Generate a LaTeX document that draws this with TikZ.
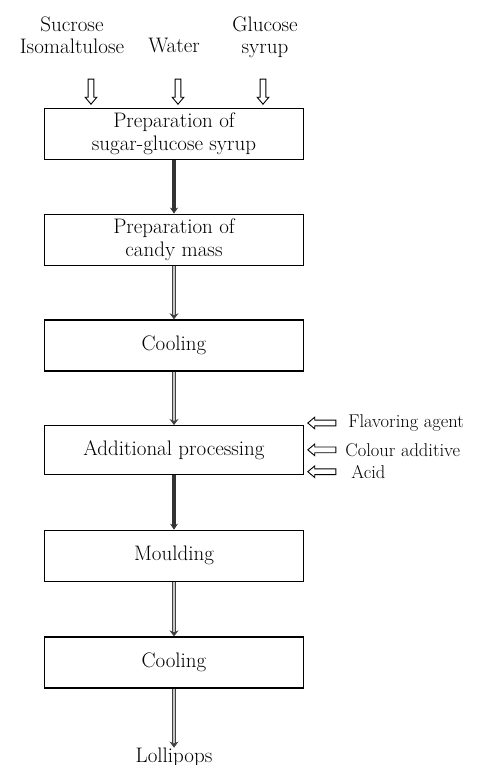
\documentclass[tikz,border=0pt]{standalone}
\usetikzlibrary{shapes, arrows.meta, calc, positioning}
\tikzstyle{block} = [rectangle, draw, line width=1.2pt, minimum width=259pt, minimum height=51pt, align=center, font=\fontsize{21}{23}\selectfont, inner sep=2pt]
\tikzstyle{line} = [draw, black!75, line width=1.1pt, double=gray!45, double distance=2.4pt, -{Stealth[length=6pt, width=9pt]}]
\tikzstyle{heavyline} = [draw, black!80, line width=4.5pt, -{Stealth[length=6pt, width=8pt]}]
\tikzstyle{inarrow} = [single arrow, draw, line width=0.9pt, minimum height=25pt, inner sep=2.4pt, single arrow head extend=3pt, single arrow tip angle=80, shape border rotate=270]
\tikzstyle{sidearrow} = [inarrow, minimum height=28pt, shape border rotate=180]
\tikzstyle{intext} = [align=center, font=\fontsize{21}{22}\selectfont, inner sep=0pt]
\tikzstyle{sidetext} = [font=\fontsize{18.5}{22}\selectfont, inner sep=0pt, anchor=west]

\begin{document}
\begin{tikzpicture}[x=1pt, y=-1pt]
        \useasboundingbox (0,0) rectangle (482,765);

        \node[block] (prep) at (174,134) {Preparation of\\sugar-glucose syrup};

        \node[intext, anchor=north] (sucrose) at (72,17) {Sucrose\\Isomaltulose};
        \node[intext, anchor=base] (water) at (174,53) {Water};
        \node[intext, anchor=north] (glucose) at (265,17) {Glucose\\syrup};

        \node[inarrow, anchor=tip] (sucarrow) at ([xshift=-83pt, yshift=3pt]prep.north) {};
        \node[inarrow, anchor=tip] (watarrow) at ([xshift=4pt, yshift=3pt]prep.north) {};
        \node[inarrow, anchor=tip] (glcarrow) at ([xshift=89pt, yshift=3pt]prep.north) {};

        \node[block, below=53.5pt of prep] (mass) {Preparation of\\candy mass};
        \path[heavyline] (prep) -- (mass);

        \node[block, below=53.5pt of mass] (cool) {Cooling};
        \path[line] (mass) -- (cool);

        \node[block, below=53.5pt of cool, minimum height=48.5pt] (proc) {Additional processing};
        \path[line] (cool) -- (proc);

        \node[sidearrow, anchor=tip] (flavarrow) at ([xshift=3pt, yshift=2pt]proc.north east) {};
        \node[sidetext, right=12pt of flavarrow.tail] (flav) {Flavoring agent};
        \node[sidearrow, anchor=tip] (colarrow) at ([xshift=3pt]proc.east) {};
        \node[sidetext, right=9pt of colarrow.tail] (col) {Colour additive};
        \node[sidearrow, anchor=tip] (acidarrow) at ([xshift=3pt, yshift=3pt]proc.south east) {};
        \node[sidetext, right=15pt of acidarrow.tail] (acid) {Acid};

        \node[block, below=55pt of proc] (mould) {Moulding};
        \path[heavyline] (proc) -- (mould);

        \node[block, below=54.5pt of mould] (cool2) {Cooling};
        \path[line] (mould) -- (cool2);

        \node[intext, below=59pt of cool2] (lolli) {Lollipops};
        \path[line] (cool2) -- (lolli);
    \end{tikzpicture}
\end{document}
